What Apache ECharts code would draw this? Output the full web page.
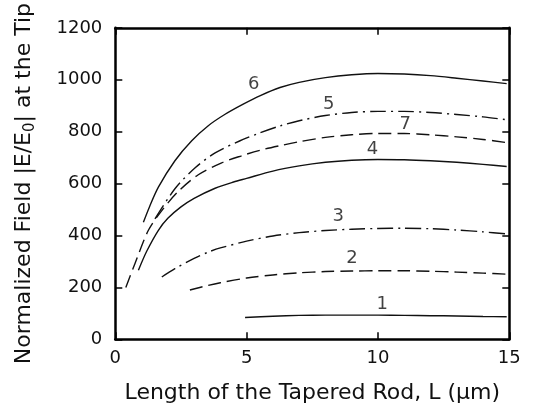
<!DOCTYPE html>
<html>
<head>
<meta charset="utf-8">
<script src="https://cdn.jsdelivr.net/npm/echarts@6/dist/echarts.min.js"></script>
<style>html,body{margin:0;padding:0;background:#fff}#c{width:536px;height:411px}</style>
</head>
<body>
<div id="c"></div>
<script>
// ---- data ----
const xTicks = [0, 5, 10, 15];
const yTicks = [0, 200, 400, 600, 800, 1000, 1200];

const c1x = [4.94, 6, 7, 8, 9, 10, 11, 12, 13, 14, 14.9];
const c1y = [84, 89, 92, 93, 93, 93, 92, 91, 90, 88, 87];

const c2x = [2.84, 3.5, 4, 5, 6, 7, 8, 9, 10, 11, 12, 13, 14, 14.9];
const c2y = [190, 207, 218, 236, 248, 256, 261, 263, 264, 264, 262, 259, 255, 251];

const c3x = [1.77, 2.27, 3, 3.54, 4, 5, 6, 7, 8, 9, 10, 11, 12, 13, 14, 14.9];
const c3y = [240, 272, 312, 336, 352, 378, 398, 411, 419, 424, 427, 428, 426, 421, 414, 406];

const c4x = [0.88, 1.2, 1.64, 2, 2.5, 3, 3.8, 4.5, 5, 6, 7, 8, 9, 10, 11, 12, 13, 14, 14.9];
const c4y = [266, 340, 420, 466, 510, 543, 582, 606, 620, 648, 668, 682, 690, 693, 692, 688, 682, 674, 666];

const c5x = [1.51, 2.27, 3.03, 3.8, 4.75, 5.5, 6.27, 7, 8, 9, 10, 11, 12, 13, 14, 14.9];
const c5y = [464, 580, 660, 718, 765, 795, 822, 842, 862, 874, 878, 878, 874, 866, 857, 846];

const c6x = [1.07, 1.3, 1.64, 2.27, 2.91, 3.54, 4.18, 4.87, 5.5, 6.27, 7, 8, 9, 10, 11, 12, 13, 14, 14.9];
const c6y = [451, 510, 586, 688, 765, 823, 867, 906, 938, 970, 990, 1008, 1019, 1024, 1022, 1016, 1006, 995, 985];

const c7x = [0.4, 0.75, 1.26, 1.77, 2.4, 3.16, 4.05, 4.81, 5.5, 6.27, 7, 8, 9, 10, 11, 12, 13, 14, 14.9];
const c7y = [200, 292, 420, 496, 570, 634, 680, 707, 728, 746, 761, 778, 788, 793, 793, 788, 780, 770, 758];

const labelNames = ['1', '2', '3', '4', '5', '6', '7'];
const labelX = [10.16, 9.01, 8.49, 9.79, 8.13, 5.27, 11.04];
const labelY = [135, 311, 473, 733, 906, 983, 829];

// ---- build chart ----
const FONT = 'DejaVu Sans';
const DASH = [13, 6];
const DASHDOT = [16, 5, 2, 5];
const curves = [
  [c1x, c1y, 'solid'],
  [c2x, c2y, DASH],
  [c3x, c3y, DASHDOT],
  [c4x, c4y, 'solid'],
  [c5x, c5y, DASHDOT],
  [c6x, c6y, 'solid'],
  [c7x, c7y, DASH]
];
const pair = (xs, ys) => xs.map((x, i) => [x, ys[i]]);

const series = curves.map((c, i) => ({
  name: 'Curve ' + (i + 1),
  type: 'line',
  xAxisIndex: 0, yAxisIndex: 0,
  data: pair(c[0], c[1]),
  smooth: 0.3,
  showSymbol: false,
  symbol: 'none',
  lineStyle: { color: '#111', width: 1.4, type: c[2] },
  z: 3
}));
series.push({
  type: 'scatter',
  xAxisIndex: 0, yAxisIndex: 0,
  symbolSize: 0,
  data: labelNames.map((n, i) => ({ name: n, value: [labelX[i], labelY[i]] })),
  label: { show: true, position: 'inside', formatter: '{b}', color: '#111', fontSize: 18, fontFamily: FONT },
  silent: true,
  z: 4
});

const axisLine = { show: true, onZero: false, lineStyle: { color: '#000', width: 2.5 } };
const axisTick = { show: true, inside: true, length: 7, lineStyle: { color: '#000', width: 1.5 } };
const plain = v => String(v);

const option = {
  animation: false,
  backgroundColor: '#fff',
  grid: { left: 115.3, right: 26.7, top: 26.7, bottom: 71.7, containLabel: false },
  xAxis: [
    {
      type: 'value', min: xTicks[0], max: xTicks[xTicks.length - 1], interval: 5,
      position: 'bottom',
      axisLine, axisTick, splitLine: { show: false },
      axisLabel: { margin: 10, color: '#111', fontSize: 18, fontFamily: FONT, formatter: plain },
      name: 'Length of the Tapered Rod, L (\u03bcm)',
      nameLocation: 'middle', nameGap: 43,
      nameTextStyle: { color: '#111', fontSize: 22, fontFamily: FONT }
    },
    {
      type: 'value', min: xTicks[0], max: xTicks[xTicks.length - 1], interval: 5,
      position: 'top',
      axisLine, axisTick, splitLine: { show: false }, axisLabel: { show: false }
    }
  ],
  yAxis: [
    {
      type: 'value', min: yTicks[0], max: yTicks[yTicks.length - 1], interval: 200,
      position: 'left',
      axisLine, axisTick, splitLine: { show: false },
      axisLabel: { margin: 13, color: '#111', fontSize: 18, fontFamily: FONT, formatter: plain },
      name: '{a|Normalized Field |E/E}{s|0}{a|| at the Tip}',
      nameLocation: 'middle', nameGap: 78, nameRotate: 90,
      nameTextStyle: {
        color: '#111', fontSize: 22, fontFamily: FONT,
        rich: {
          a: { color: '#111', fontSize: 22, fontFamily: FONT, lineHeight: 26 },
          s: { color: '#111', fontSize: 15, fontFamily: FONT, lineHeight: 15, verticalAlign: 'bottom' }
        }
      }
    },
    {
      type: 'value', min: yTicks[0], max: yTicks[yTicks.length - 1], interval: 200,
      position: 'right',
      axisLine, axisTick, splitLine: { show: false }, axisLabel: { show: false }
    }
  ],
  series
};

const chart = echarts.init(document.getElementById('c'), null, { renderer: 'canvas' });
chart.setOption(option);
</script>
</body>
</html>
